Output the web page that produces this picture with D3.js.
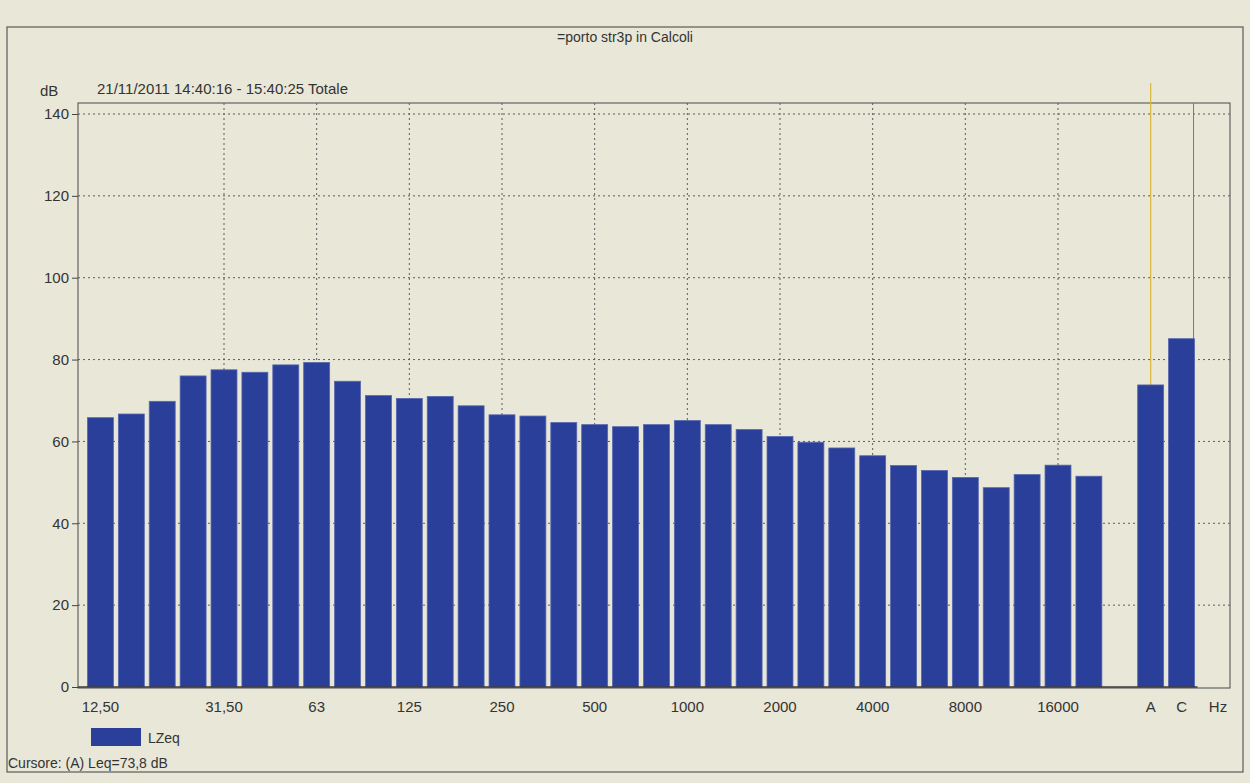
<!DOCTYPE html>
<html>
<head>
<meta charset="utf-8">
<script src="https://cdn.jsdelivr.net/npm/d3@7"></script>
<style>
  html, body { margin: 0; padding: 0; background: #e9e7d7; }
  svg { display: block; }
  text { font-family: "Liberation Sans", Arial, sans-serif; fill: #343434; }
</style>
</head>
<body>
<svg id="chart" width="1250" height="783"></svg>
<script>
// ---- data ----
const bands = ["12,50","16","20","25","31,50","40","50","63","80","100","125","160","200","250","315","400","500","630","800","1000","1250","1600","2000","2500","3150","4000","5000","6300","8000","10000","12500","16000","20000"];
const lzeq = [65.8,66.7,69.8,76.0,77.5,76.9,78.7,79.3,74.7,71.2,70.5,71.0,68.7,66.5,66.2,64.6,64.1,63.6,64.1,65.1,64.1,62.9,61.2,59.8,58.4,56.5,54.1,52.9,51.2,48.7,51.9,54.2,51.5];
const totals = ["A","C"];
const totalValues = [73.8, 85.1];
const tickBands = ["12,50","31,50","63","125","250","500","1000","2000","4000","8000","16000"];
const gridBands = ["31,50","63","125","250","500","1000","2000","4000","8000","16000"];
const yTicks = [0,20,40,60,80,100,120,140];
const title = "=porto str3p in Calcoli";
const subtitle = "21/11/2011 14:40:16 - 15:40:25  Totale";
const seriesName = "LZeq";
const cursorText = "Cursore: (A)  Leq=73,8 dB";

// ---- layout ----
const svg = d3.select("#chart");
const plot = {left: 78, right: 1230, top: 103, bottom: 688};
const barColor = "#2a3f99";

const slots = bands.concat(["_gap"], totals);
const x = d3.scaleBand().domain(slots).range([85, 1197]).paddingInner(0.16).paddingOuter(0.08);
const y = d3.scaleLinear().domain([0, 140]).range([687, 114]);

// outer frame
svg.append("rect").attr("x", 7).attr("y", 27).attr("width", 1236).attr("height", 745)
  .attr("fill", "none").attr("stroke", "#5a5a5a").attr("stroke-width", 1.2);

// title
svg.append("text").attr("x", 625).attr("y", 42).attr("text-anchor", "middle")
  .style("font-size", "14px").text(title);
svg.append("text").attr("x", 40).attr("y", 96).style("font-size", "15px").text("dB");
svg.append("text").attr("x", 97).attr("y", 94).style("font-size", "15px").text(subtitle);

// plot frame
svg.append("rect").attr("x", plot.left).attr("y", plot.top)
  .attr("width", plot.right - plot.left).attr("height", plot.bottom - plot.top)
  .attr("fill", "none").attr("stroke", "#4a4a4a").attr("stroke-width", 1);

// horizontal grid
svg.append("g").selectAll("line").data(yTicks.filter(d => d > 0)).join("line")
  .attr("x1", plot.left).attr("x2", plot.right)
  .attr("y1", d => y(d)).attr("y2", d => y(d))
  .attr("stroke", "#5c5c5c").attr("stroke-width", 1).attr("stroke-dasharray", "2,3");

// vertical grid
svg.append("g").selectAll("line").data(gridBands).join("line")
  .attr("x1", d => x(d) + x.bandwidth() / 2).attr("x2", d => x(d) + x.bandwidth() / 2)
  .attr("y1", plot.top).attr("y2", plot.bottom)
  .attr("stroke", "#5c5c5c").attr("stroke-width", 1).attr("stroke-dasharray", "2,3");

// cursor line (A) and line at C
svg.append("line")
  .attr("x1", x("A") + x.bandwidth() / 2).attr("x2", x("A") + x.bandwidth() / 2)
  .attr("y1", plot.top - 20).attr("y2", plot.bottom)
  .attr("stroke", "#d9b93a").attr("stroke-width", 1.2);
svg.append("line")
  .attr("x1", x("C") + x.bandwidth() - 1).attr("x2", x("C") + x.bandwidth() - 1)
  .attr("y1", plot.top).attr("y2", plot.bottom)
  .attr("stroke", "#7a7a7a").attr("stroke-width", 1);

// y axis
const yAxis = d3.axisLeft(y).tickValues(yTicks).tickSize(6).tickPadding(3);
const yg = svg.append("g").attr("transform", `translate(${plot.left},0)`).call(yAxis);
yg.select(".domain").remove();
yg.selectAll("line").attr("stroke", "#444");
yg.selectAll("text").style("font-size", "15px").style("font-family", "Liberation Sans, Arial, sans-serif").attr("fill", "#343434");

// bars
svg.append("g").selectAll("rect").data(bands.map((b, i) => ({k: b, v: lzeq[i]}))).join("rect")
  .attr("x", d => x(d.k)).attr("width", x.bandwidth())
  .attr("y", d => y(d.v)).attr("height", d => y(0) - y(d.v))
  .attr("fill", barColor).attr("stroke", "#5566b0").attr("stroke-width", 0.8);
svg.append("g").selectAll("rect").data(totals.map((b, i) => ({k: b, v: totalValues[i]}))).join("rect")
  .attr("x", d => x(d.k)).attr("width", x.bandwidth())
  .attr("y", d => y(d.v)).attr("height", d => y(0) - y(d.v))
  .attr("fill", barColor).attr("stroke", "#5566b0").attr("stroke-width", 0.8);

// baseline
svg.append("line").attr("x1", plot.left).attr("x2", x("C") + x.bandwidth() + 3)
  .attr("y1", y(0)).attr("y2", y(0)).attr("stroke", "#3a3a3a").attr("stroke-width", 1.5);

// x axis labels
const xLabels = tickBands.concat(totals);
svg.append("g").selectAll("text").data(xLabels).join("text")
  .attr("x", d => x(d) + x.bandwidth() / 2).attr("y", 712)
  .attr("text-anchor", "middle").style("font-size", "15px").text(d => d);
svg.append("text").attr("x", 1218).attr("y", 712).attr("text-anchor", "middle")
  .style("font-size", "15px").text("Hz");

// legend
svg.append("rect").attr("x", 91).attr("y", 728).attr("width", 50).attr("height", 18).attr("fill", barColor);
svg.append("text").attr("x", 148).attr("y", 743).style("font-size", "14px").text(seriesName);
svg.append("text").attr("x", 8).attr("y", 768).style("font-size", "14px").text(cursorText);
</script>
</body>
</html>
